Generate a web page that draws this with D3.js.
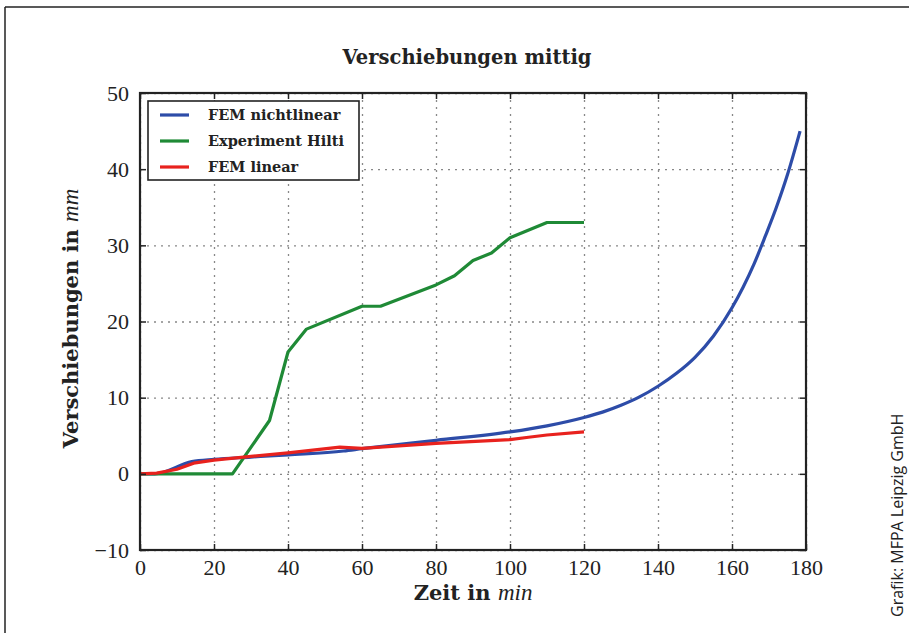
<!DOCTYPE html>
<html>
<head>
<meta charset="utf-8">
<script src="https://cdn.jsdelivr.net/npm/d3@7"></script>
<style>
  body { margin: 0; background: #fff; }
  svg text { font-family: "Liberation Serif", serif; fill: #222; }
  .bold { font-family: "DejaVu Serif", serif; font-weight: bold; }
  .grid line { stroke: #888; stroke-width: 1.3; stroke-dasharray: 2,5; }
  .grid .domain { display: none; }
  .axis .domain { display: none; }
  .axis line { stroke: #222; stroke-width: 1.5; }
</style>
</head>
<body>
<div id="vis"></div>
<script>
const timeBlue = [0, 4, 14, 20, 30, 40, 55, 60, 80, 100, 110, 120, 125, 130, 135, 140, 145, 150, 155, 160, 163, 166, 169, 172, 175, 178.4];
const femNichtlinear = [0, 0, 1.6, 1.9, 2.2, 2.5, 3.0, 3.3, 4.4, 5.5, 6.3, 7.4, 8.1, 9.0, 10.1, 11.5, 13.2, 15.3, 18.1, 21.8, 24.5, 27.6, 31.2, 35.0, 39.3, 45];

const timeGreen = [0, 25, 35, 40, 45, 60, 65, 80, 85, 90, 95, 100, 110, 120];
const experimentHilti = [0, 0, 7, 16, 19, 22, 22, 24.8, 26, 28, 29, 31, 33, 33];

const timeRed = [0, 4.5, 10, 14.5, 20, 30, 40, 54, 60, 80, 100, 105, 110, 120];
const femLinear = [0, 0.1, 0.6, 1.4, 1.8, 2.3, 2.75, 3.5, 3.35, 4.0, 4.5, 4.8, 5.1, 5.5];

const xTicks = [0, 20, 40, 60, 80, 100, 120, 140, 160, 180];
const yTicks = [-10, 0, 10, 20, 30, 40, 50];

const seriesNames = ["FEM nichtlinear", "Experiment Hilti", "FEM linear"];
const seriesColors = ["#2d4ca8", "#1f8a36", "#e8221e"];

const W = 909, H = 633;
const margin = { top: 93, right: 103, bottom: 83, left: 140 };
const width = W - margin.left - margin.right;
const height = H - margin.top - margin.bottom;

const root = d3.select("#vis").append("svg").attr("width", W).attr("height", H);

// frame lines of the picture
root.append("line").attr("x1", 5).attr("x2", W).attr("y1", 7).attr("y2", 7)
  .attr("stroke", "#222").attr("stroke-width", 1.5);
root.append("line").attr("x1", 5).attr("x2", 5).attr("y1", 7).attr("y2", H)
  .attr("stroke", "#222").attr("stroke-width", 1.5);

const svg = root.append("g").attr("transform", `translate(${margin.left},${margin.top})`);

const xScale = d3.scaleLinear().domain([0, 180]).range([0, width]);
const yScale = d3.scaleLinear().domain([-10, 50]).range([height, 0]);

// grid
svg.append("g").attr("class", "grid")
  .attr("transform", `translate(0,${height})`)
  .call(d3.axisBottom(xScale).tickValues(xTicks).tickSize(-height).tickFormat(""));
svg.append("g").attr("class", "grid")
  .call(d3.axisLeft(yScale).tickValues(yTicks).tickSize(-width).tickFormat(""));

// lines
const series = [
  { x: timeBlue, y: femNichtlinear, curve: d3.curveMonotoneX },
  { x: timeGreen, y: experimentHilti, curve: d3.curveLinear },
  { x: timeRed, y: femLinear, curve: d3.curveLinear },
];
series.forEach((s, i) => {
  const pts = s.x.map((t, j) => [t, s.y[j]]);
  svg.append("path")
    .datum(pts)
    .attr("fill", "none")
    .attr("stroke", seriesColors[i])
    .attr("stroke-width", 3.2)
    .attr("stroke-linejoin", "round")
    .attr("d", d3.line().x((d) => xScale(d[0])).y((d) => yScale(d[1])).curve(s.curve));
});

// axes with inward ticks
const bottom = svg.append("g").attr("class", "axis")
  .attr("transform", `translate(0,${height})`)
  .call(d3.axisBottom(xScale).tickValues(xTicks).tickSizeInner(-6).tickSizeOuter(0).tickPadding(10));
bottom.selectAll("text").style("font-size", "22px").attr("dy", "0.68em");
svg.append("g").attr("class", "axis")
  .call(d3.axisTop(xScale).tickValues(xTicks).tickSizeInner(-6).tickSizeOuter(0).tickFormat(""));
const left = svg.append("g").attr("class", "axis")
  .call(d3.axisLeft(yScale).tickValues(yTicks).tickSizeInner(-6).tickSizeOuter(0).tickPadding(11));
left.selectAll("text").style("font-size", "22px");
svg.append("g").attr("class", "axis")
  .attr("transform", `translate(${width},0)`)
  .call(d3.axisRight(yScale).tickValues(yTicks).tickSizeInner(-6).tickSizeOuter(0).tickFormat(""));

svg.append("rect")
  .attr("width", width).attr("height", height)
  .attr("fill", "none").attr("stroke", "#222").attr("stroke-width", 2.2);

// title
svg.append("text").attr("class", "bold")
  .attr("x", width / 2 - 6).attr("y", -29)
  .attr("text-anchor", "middle")
  .style("font-size", "19.5px")
  .text("Verschiebungen mittig");

// axis labels
const xl = svg.append("text")
  .attr("x", width / 2).attr("y", height + 50)
  .attr("text-anchor", "middle")
  .style("font-size", "21px");
xl.append("tspan").attr("class", "bold").text("Zeit in ");
xl.append("tspan").style("font-style", "italic").style("font-size", "23px").text("min");

const yl = svg.append("text")
  .attr("transform", "rotate(-90)")
  .attr("x", -height / 2 + 3).attr("y", -margin.left + 78)
  .attr("text-anchor", "middle")
  .style("font-size", "21px");
yl.append("tspan").attr("class", "bold").text("Verschiebungen in ");
yl.append("tspan").style("font-style", "italic").style("font-size", "23px").text("mm");

// legend
const legend = svg.append("g").attr("transform", "translate(8,8)");
legend.append("rect")
  .attr("width", 211).attr("height", 79)
  .attr("fill", "#fff").attr("stroke", "#222").attr("stroke-width", 1.6);
seriesNames.forEach((name, i) => {
  const yy = 14 + i * 26;
  legend.append("line")
    .attr("x1", 12).attr("x2", 41).attr("y1", yy).attr("y2", yy)
    .attr("stroke", seriesColors[i]).attr("stroke-width", 3.2);
  legend.append("text").attr("class", "bold")
    .attr("x", 60).attr("y", yy).attr("dy", "0.35em")
    .style("font-size", "14.5px")
    .text(name);
});

// credit
root.append("text")
  .attr("transform", "translate(903,617) rotate(-90)")
  .style("font-family", "'Open Sans', sans-serif")
  .style("font-size", "16px")
  .style("fill", "#222")
  .text("Grafik: MFPA Leipzig GmbH");
</script>
</body>
</html>
